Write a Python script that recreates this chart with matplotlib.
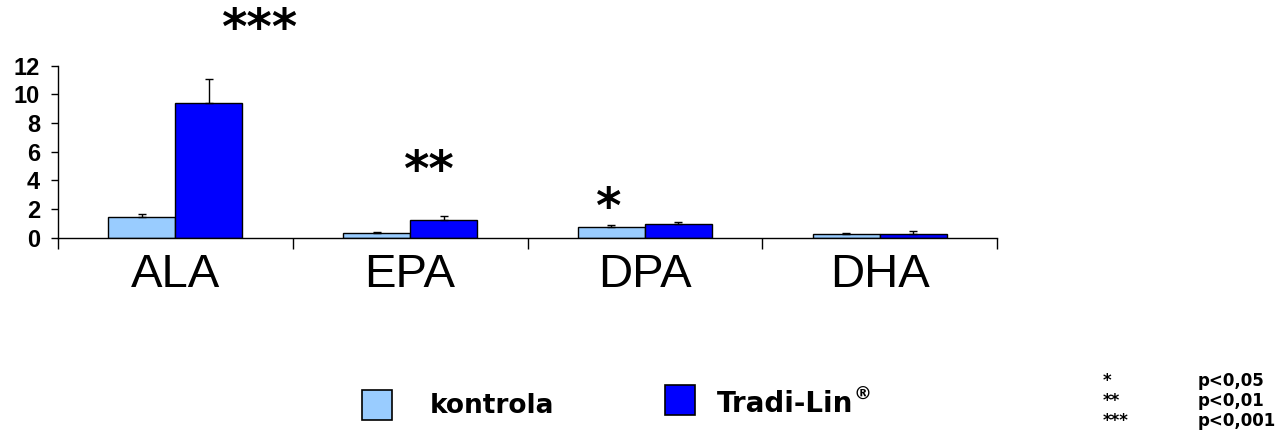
import matplotlib
matplotlib.use("Agg")
import matplotlib.pyplot as plt
import numpy as np
from matplotlib.patches import Rectangle

categories = ["ALA", "EPA", "DPA", "DHA"]
kontrola = [1.42, 0.35, 0.78, 0.23]
kontrola_err = [0.21, 0.04, 0.11, 0.12]
tradilin = [9.38, 1.21, 0.98, 0.23]
tradilin_err = [1.67, 0.33, 0.10, 0.24]
y_ticks = [0, 2, 4, 6, 8, 10, 12]
stars = ["***", "**", "*"]
star_x = [0.36, 1.08, 1.845]
star_y = [13.5, 3.62, 1.0]
sig_labels = ["*", "**", "***"]
sig_values = ["p<0,05", "p<0,01", "p<0,001"]

LIGHT = "#99CCFF"
DARK = "#0000FF"
FONT = ["Liberation Sans", "DejaVu Sans"]
WIDE = ["DejaVu Sans"]
plt.rcParams["font.family"] = FONT

fig = plt.figure(figsize=(12.83, 4.43), dpi=100)
W, H = 1283, 443
x0, x1 = 58, 997
y0, y1 = 237.7, 65.7
ax = fig.add_axes([x0 / W, (H - y0) / H, (x1 - x0) / W, (y0 - y1) / H])

x = np.arange(len(categories))
bw = 0.285
ax.bar(x - bw / 2, kontrola, bw, color=LIGHT, edgecolor="black", linewidth=1,
       yerr=[np.zeros(len(x)), kontrola_err],
       error_kw=dict(ecolor="black", elinewidth=1, capsize=3, capthick=1))
ax.bar(x + bw / 2, tradilin, bw, color=DARK, edgecolor="black", linewidth=1,
       yerr=[np.zeros(len(x)), tradilin_err],
       error_kw=dict(ecolor="black", elinewidth=1, capsize=3, capthick=1))

ax.set_xlim(-0.5, len(categories) - 0.5)
ax.set_ylim(0, 12)
ax.spines["top"].set_visible(False)
ax.spines["right"].set_visible(False)
ax.spines["left"].set_linewidth(1)
ax.spines["bottom"].set_linewidth(1)

ax.set_yticks(y_ticks)
ax.set_yticklabels([str(v) for v in y_ticks], fontsize=17, fontweight="bold")
ax.tick_params(axis="y", direction="out", length=5, width=1, pad=8)

ax.set_xticks(np.arange(len(categories) + 1) - 0.5)
ax.set_xticklabels([])
ax.tick_params(axis="x", which="major", direction="out", length=8, width=1)
ax.set_xticks(x, minor=True)
ax.set_xticklabels(categories, minor=True, fontsize=34)
ax.tick_params(axis="x", which="minor", length=0, pad=11)

for s, sx, sy in zip(stars, star_x, star_y):
    ax.text(sx, sy, s, ha="center", va="baseline", fontsize=35, fontweight="bold",
            family=WIDE, clip_on=False)

# legend
fig.patches.append(Rectangle((362 / W, 1 - 420 / H), 30 / W, 30 / H,
                             transform=fig.transFigure, facecolor=LIGHT,
                             edgecolor="black", linewidth=1.2))
fig.text(430 / W, 1 - 413 / H, "kontrola", fontsize=19, fontweight="bold",
         va="baseline", ha="left", family=WIDE)
fig.patches.append(Rectangle((665 / W, 1 - 415 / H), 30 / W, 30 / H,
                             transform=fig.transFigure, facecolor=DARK,
                             edgecolor="black", linewidth=1.2))
t = fig.text(717 / W, 1 - 412 / H, "Tradi-Lin", fontsize=20, fontweight="bold",
             va="baseline", ha="left", family=WIDE)
fig.text(853 / W, 1 - 400 / H, "®", fontsize=13, fontweight="bold",
         va="baseline", ha="left", family=WIDE)

for i, (sl, sv) in enumerate(zip(sig_labels, sig_values)):
    yy = 1 - (386 + 20 * i) / H
    fig.text(1103 / W, yy, sl, fontsize=12, fontweight="bold", va="baseline",
             ha="left", family=WIDE)
    fig.text(1198 / W, yy, sv, fontsize=12, fontweight="bold", va="baseline",
             ha="left", family=WIDE)

fig.savefig("out.png", dpi=100)
